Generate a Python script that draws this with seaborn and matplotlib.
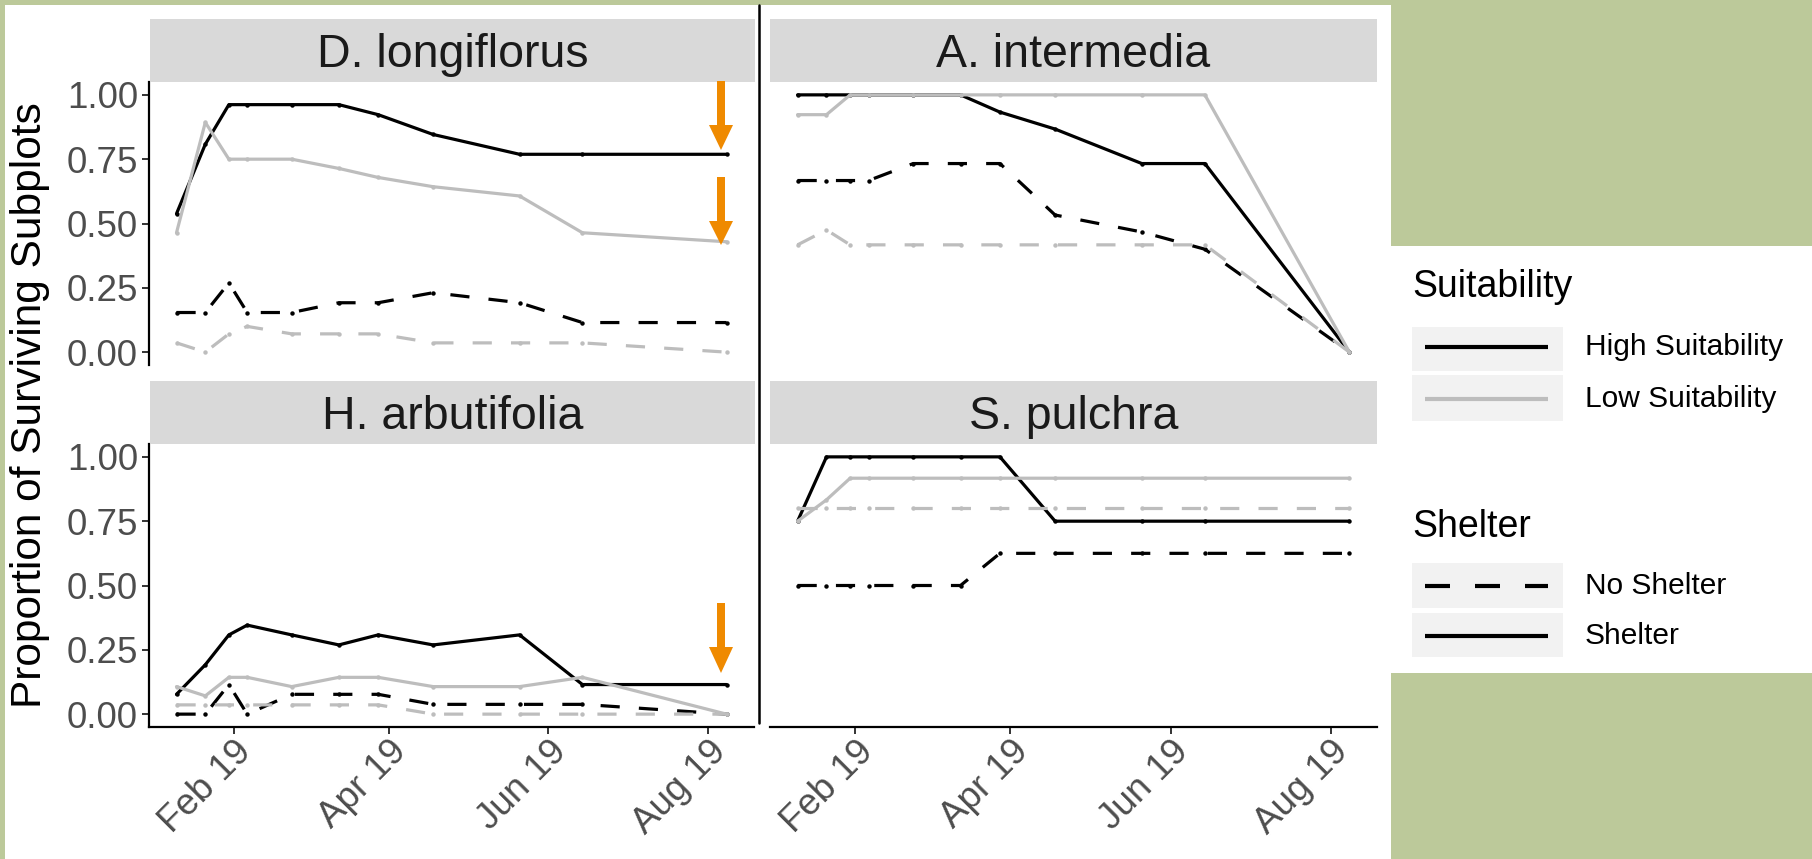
import numpy as np
import pandas as pd
import matplotlib
matplotlib.use('Agg')
import matplotlib.pyplot as plt
import matplotlib.dates as mdates
from matplotlib.lines import Line2D
from matplotlib.patches import Rectangle, Polygon
import seaborn as sns

sns.set_theme(style='white')
plt.rcParams['font.family'] = ['Liberation Sans', 'DejaVu Sans']

# ---------------- data ----------------
dates = ['2019-01-10', '2019-01-21', '2019-01-30', '2019-02-06', '2019-02-23', '2019-03-13',
         '2019-03-28', '2019-04-18', '2019-05-21', '2019-06-14', '2019-08-08']
species = ['D. longiflorus', 'A. intermedia', 'H. arbutifolia', 'S. pulchra']
suitability_levels = ['High Suitability', 'Low Suitability']
shelter_levels = ['No Shelter', 'Shelter']

dl_high_shelter = [0.538, 0.808, 0.962, 0.962, 0.962, 0.962, 0.923, 0.846, 0.769, 0.769, 0.769]
dl_low_shelter = [0.464, 0.893, 0.750, 0.750, 0.750, 0.714, 0.679, 0.643, 0.607, 0.464, 0.429]
dl_high_noshelter = [0.154, 0.154, 0.269, 0.154, 0.154, 0.192, 0.192, 0.231, 0.192, 0.115, 0.115]
dl_low_noshelter = [0.036, 0.000, 0.071, 0.100, 0.071, 0.071, 0.071, 0.036, 0.036, 0.036, 0.000]

ai_high_shelter = [1.000, 1.000, 1.000, 1.000, 1.000, 1.000, 0.933, 0.867, 0.733, 0.733, 0.000]
ai_low_shelter = [0.923, 0.923, 1.000, 1.000, 1.000, 1.000, 1.000, 1.000, 1.000, 1.000, 0.000]
ai_high_noshelter = [0.667, 0.667, 0.667, 0.667, 0.733, 0.733, 0.733, 0.533, 0.467, 0.400, 0.000]
ai_low_noshelter = [0.417, 0.475, 0.417, 0.417, 0.417, 0.417, 0.417, 0.417, 0.417, 0.417, 0.000]

ha_high_shelter = [0.077, 0.192, 0.308, 0.346, 0.308, 0.269, 0.308, 0.269, 0.308, 0.115, 0.115]
ha_low_shelter = [0.107, 0.071, 0.143, 0.143, 0.107, 0.143, 0.143, 0.107, 0.107, 0.143, 0.000]
ha_high_noshelter = [0.000, 0.000, 0.115, 0.000, 0.077, 0.077, 0.077, 0.038, 0.038, 0.038, 0.000]
ha_low_noshelter = [0.036, 0.036, 0.036, 0.036, 0.036, 0.036, 0.036, 0.000, 0.000, 0.000, 0.000]

sp_high_shelter = [0.750, 1.000, 1.000, 1.000, 1.000, 1.000, 1.000, 0.750, 0.750, 0.750, 0.750]
sp_low_shelter = [0.750, 0.833, 0.917, 0.917, 0.917, 0.917, 0.917, 0.917, 0.917, 0.917, 0.917]
sp_high_noshelter = [0.500, 0.500, 0.500, 0.500, 0.500, 0.500, 0.625, 0.625, 0.625, 0.625, 0.625]
sp_low_noshelter = [0.800, 0.800, 0.800, 0.800, 0.800, 0.800, 0.800, 0.800, 0.800, 0.800, 0.800]

tick_dates = ['2019-02-01', '2019-04-01', '2019-06-01', '2019-08-01']
tick_labels = ['Feb 19', 'Apr 19', 'Jun 19', 'Aug 19']
y_ticks = [0.0, 0.25, 0.5, 0.75, 1.0]
y_tick_labels = ['0.00', '0.25', '0.50', '0.75', '1.00']

series = {
    'D. longiflorus': (dl_high_shelter, dl_low_shelter, dl_high_noshelter, dl_low_noshelter),
    'A. intermedia': (ai_high_shelter, ai_low_shelter, ai_high_noshelter, ai_low_noshelter),
    'H. arbutifolia': (ha_high_shelter, ha_low_shelter, ha_high_noshelter, ha_low_noshelter),
    'S. pulchra': (sp_high_shelter, sp_low_shelter, sp_high_noshelter, sp_low_noshelter),
}

rows = []
for sp in species:
    hs, ls, hn, ln = series[sp]
    for suit, shel, vals in [('High Suitability', 'No Shelter', hn), ('High Suitability', 'Shelter', hs),
                             ('Low Suitability', 'No Shelter', ln), ('Low Suitability', 'Shelter', ls)]:
        for d, v in zip(dates, vals):
            rows.append(dict(Species=sp, Date=pd.Timestamp(d), Proportion=v,
                             Suitability=suit, Shelter=shel))
df = pd.DataFrame(rows)

# ---------------- layout ----------------
W, H = 1812, 859
fig = plt.figure(figsize=(W / 100, H / 100), dpi=100)
fig.patch.set_facecolor('#bcc99a')

def fr(x0, y0, x1, y1):
    return [x0 / W, 1 - y1 / H, (x1 - x0) / W, (y1 - y0) / H]

# white backgrounds
fig.add_artist(Rectangle((5 / W, 0), (1391 - 5) / W, 1 - 5 / H, transform=fig.transFigure,
                         facecolor='white', edgecolor='none', zorder=-10))
fig.add_artist(Rectangle((1391 / W, 1 - 673 / H), (W - 1391) / W, (673 - 246) / H,
                         transform=fig.transFigure, facecolor='white', edgecolor='none', zorder=-10))

panel_px = {
    'D. longiflorus': (149, 82, 754, 365),
    'A. intermedia': (770, 82, 1377, 365),
    'H. arbutifolia': (149, 444, 754, 727),
    'S. pulchra': (770, 444, 1377, 727),
}
strip_px = {
    'D. longiflorus': (150, 19, 755, 82),
    'A. intermedia': (770, 19, 1377, 82),
    'H. arbutifolia': (150, 381, 755, 444),
    'S. pulchra': (770, 381, 1377, 444),
}

palette = {'High Suitability': 'black', 'Low Suitability': '#bdbdbd'}
dashes = {'No Shelter': (6, 6), 'Shelter': ''}
markers = {'No Shelter': 'o', 'Shelter': 'o'}

xmin = mdates.date2num(pd.Timestamp('2018-12-30 12:00'))
xmax = mdates.date2num(pd.Timestamp('2019-08-18 12:00'))
tick_nums = [mdates.date2num(pd.Timestamp(t)) for t in tick_dates]

TICK_FS = 26.5
for i, sp in enumerate(species):
    left_col = i % 2 == 0
    bottom_row = i >= 2
    ax = fig.add_axes(fr(*panel_px[sp]))
    ax.set_facecolor('none')
    sub = df[df.Species == sp]
    sns.lineplot(data=sub, x='Date', y='Proportion', hue='Suitability', style='Shelter',
                 hue_order=suitability_levels, style_order=shelter_levels,
                 palette=palette, dashes=dashes, markers=markers, markersize=3.2,
                 markeredgewidth=0, lw=2.3, estimator=None, legend=False, ax=ax)
    ax.set_xlim(xmin, xmax)
    ax.set_ylim(-0.05, 1.05)
    ax.set_xlabel('')
    ax.set_ylabel('')
    ax.set_yticks(y_ticks)
    ax.set_xticks(tick_nums)
    for s in ['top', 'right']:
        ax.spines[s].set_visible(False)
    ax.spines['left'].set_visible(left_col)
    ax.spines['bottom'].set_visible(bottom_row)
    for s in ['left', 'bottom']:
        ax.spines[s].set_color('black')
        ax.spines[s].set_linewidth(1.6)
    if left_col:
        ax.set_yticklabels(y_tick_labels)
        ax.tick_params(axis='y', left=True, length=5, width=1.4, color='#333333',
                       labelsize=TICK_FS, labelcolor='#4d4d4d', pad=3)
    else:
        ax.tick_params(axis='y', left=False, labelleft=False)
    if bottom_row:
        ax.set_xticklabels(tick_labels, rotation=45, ha='right', va='top',
                           rotation_mode='anchor')
        ax.tick_params(axis='x', bottom=True, length=5, width=1.4, color='#333333',
                       labelsize=TICK_FS, labelcolor='#4d4d4d', pad=0)
    else:
        ax.tick_params(axis='x', bottom=False, labelbottom=False)
    ax.grid(False)

    # strip
    x0, y0, x1, y1 = strip_px[sp]
    fig.add_artist(Rectangle((x0 / W, 1 - y1 / H), (x1 - x0) / W, (y1 - y0) / H,
                             transform=fig.transFigure, facecolor='#d9d9d9', edgecolor='none'))
    fig.text((x0 + x1) / 2 / W, 1 - (y0 + 48) / H, sp, ha='center', va='baseline',
             fontsize=33.5, color='#1a1a1a')

# y axis title
fig.text(30 / W, 1 - 405 / H, 'Proportion of Surviving Subplots', rotation=90,
         ha='center', va='center', fontsize=30.5, color='black')

# stray vertical rule between columns
fig.add_artist(Line2D([759 / W, 759 / W], [1 - 5 / H, 1 - 723 / H], transform=fig.transFigure,
                      color='black', lw=1.8))

# orange arrows
def arrow(cx, y0, y1, y2):
    pts = [(cx - 4, y0), (cx + 4, y0), (cx + 4, y1), (cx + 12, y1), (cx, y2),
           (cx - 12, y1), (cx - 4, y1)]
    pts = [(x / W, 1 - y / H) for x, y in pts]
    fig.add_artist(Polygon(pts, closed=True, transform=fig.transFigure,
                           facecolor='#ef8a00', edgecolor='none', zorder=20))

arrow(721, 81, 125, 150)
arrow(721, 177, 221, 245)
arrow(721, 603, 647, 673)

# legend (drawn manually)
def legend_block(title, title_y, entries):
    fig.text(1412 / W, 1 - title_y / H, title, ha='left', va='baseline', fontsize=27,
             color='black')
    for (label, color, dash, yc, (by0, by1)) in entries:
        fig.add_artist(Rectangle((1412 / W, 1 - by1 / H), (1563 - 1412) / W, (by1 - by0) / H,
                                 transform=fig.transFigure, facecolor='#f2f2f2',
                                 edgecolor='none'))
        ln = Line2D([1425 / W, 1548 / W], [1 - yc / H, 1 - yc / H], transform=fig.transFigure,
                    color=color, lw=3.0, solid_capstyle='butt', dash_capstyle='butt')
        if dash:
            ln.set_dashes(dash)
        fig.add_artist(ln)
        fig.text(1585 / W, 1 - yc / H, label, ha='left', va='center', fontsize=21.5,
                 color='black')

legend_block('Suitability', 297, [
    (suitability_levels[0], 'black', None, 347, (327, 371)),
    (suitability_levels[1], '#bdbdbd', None, 399, (375, 421)),
])
legend_block('Shelter', 537, [
    (shelter_levels[0], 'black', (6, 6), 586, (563, 608)),
    (shelter_levels[1], 'black', None, 636, (613, 657)),
])

fig.savefig('out.png', dpi=100, facecolor=fig.get_facecolor())
